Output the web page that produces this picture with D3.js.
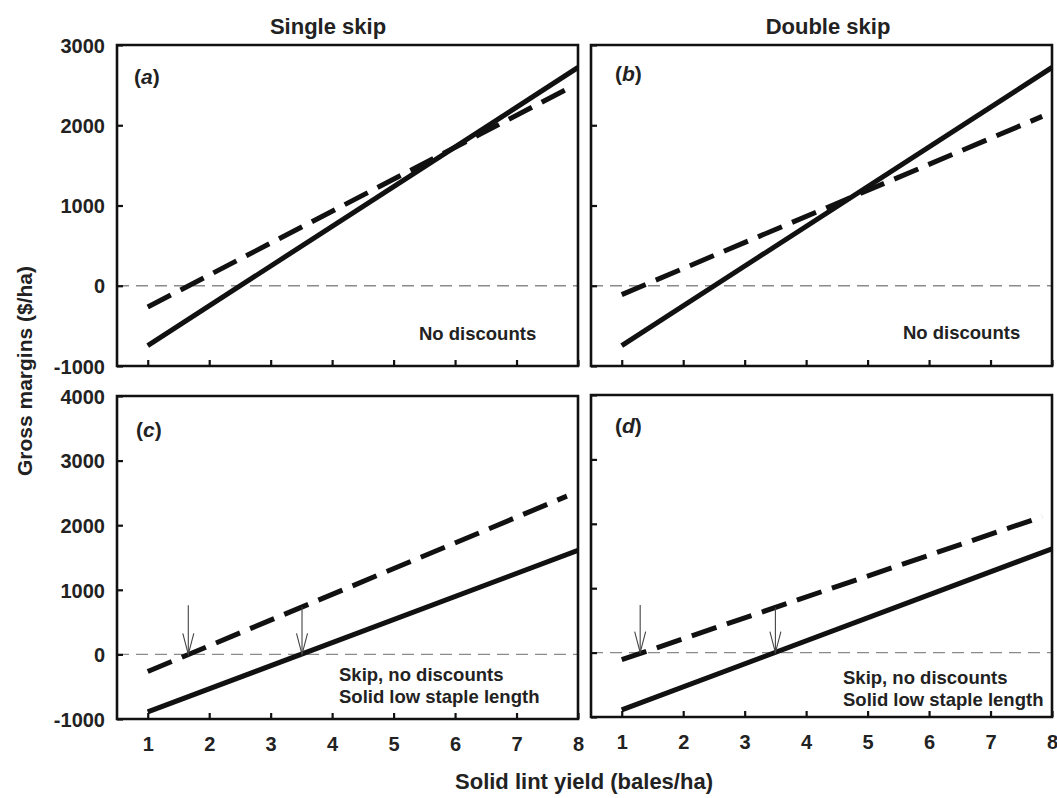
<!DOCTYPE html>
<html>
<head>
<meta charset="utf-8">
<script src="https://cdn.jsdelivr.net/npm/d3@7/dist/d3.min.js"></script>
<style>
  html, body { margin: 0; padding: 0; background: #fff; }
  svg text { font-family: "Liberation Sans", Arial, sans-serif; font-weight: bold; fill: #222; }
</style>
</head>
<body>
<svg id="chart" width="1057" height="798"></svg>
<script>
// ---------- data ----------
const xTicks = [1, 2, 3, 4, 5, 6, 7, 8];
const yTicksTop = [-1000, 0, 1000, 2000, 3000];
const yTicksBottom = [-1000, 0, 1000, 2000, 3000, 4000];
const columnTitles = ["Single skip", "Double skip"];
const panelLetters = ["a", "b", "c", "d"];

// solid planting (solid line), yields in bales/ha
const solidNoDiscountX = [1, 8];
const solidNoDiscountY = [-745, 2720];
const solidLowStapleX = [1, 8];
const solidLowStapleY = [-890, 1612];

// skip planting (dashed line)
const singleSkipX = [1, 7.82];
const singleSkipY = [-265, 2450];
const doubleSkipX = [1, 7.84];
const doubleSkipY = [-110, 2110];

// break-even arrows (yield, top of arrow in $/ha)
const arrowsC_x = [1.66, 3.51];
const arrowsC_top = [760, 735];
const arrowsD_x = [1.3, 3.5];
const arrowsD_top = [740, 700];

const notesTop = ["No discounts"];
const notesBottom = ["Skip, no discounts", "Solid low staple length"];

// ---------- layout ----------
const svg = d3.select("#chart");
const panels = [
  { id: "a", x0: 117, x1: 578, y0: 45, y1: 366, yDom: [-1000, 3000], yTicks: yTicksTop, labels: true, xLabels: false,
    solid: [solidNoDiscountX, solidNoDiscountY], dash: [singleSkipX, singleSkipY], notes: notesTop, arrows: null,
    letterPos: [134, 84], notePos: [419, 340] },
  { id: "b", x0: 591, x1: 1052, y0: 45, y1: 366, yDom: [-1000, 3000], yTicks: yTicksTop, labels: false, xLabels: false,
    solid: [solidNoDiscountX, solidNoDiscountY], dash: [doubleSkipX, doubleSkipY], notes: notesTop, arrows: null,
    letterPos: [615, 81], notePos: [903, 339] },
  { id: "c", x0: 117, x1: 578, y0: 396, y1: 719, yDom: [-1000, 4000], yTicks: yTicksBottom, labels: true, xLabels: true,
    solid: [solidLowStapleX, solidLowStapleY], dash: [singleSkipX, singleSkipY], notes: notesBottom, arrows: [arrowsC_x, arrowsC_top],
    letterPos: [136, 437], notePos: [339, 681] },
  { id: "d", x0: 591, x1: 1052, y0: 395, y1: 717, yDom: [-1000, 4000], yTicks: yTicksBottom, labels: false, xLabels: true,
    solid: [solidLowStapleX, solidLowStapleY], dash: [doubleSkipX, doubleSkipY], notes: notesBottom, arrows: [arrowsD_x, arrowsD_top],
    letterPos: [615, 433], notePos: [843, 684] }
];

const defs = svg.append("defs");
const frames = [];
const plainFmt = d => String(d); // hyphen-minus as in the reference

panels.forEach((p, i) => {
  const x = d3.scaleLinear().domain([0.5, 8]).range([p.x0, p.x1]);
  const y = d3.scaleLinear().domain(p.yDom).range([p.y1, p.y0]);
  const g = svg.append("g").attr("class", "panel-" + p.id);

  defs.append("clipPath").attr("id", "clip-" + p.id)
    .append("rect").attr("x", p.x0).attr("y", p.y0).attr("width", p.x1 - p.x0).attr("height", p.y1 - p.y0);

  // zero reference line
  g.append("line")
    .attr("x1", p.x0).attr("x2", p.x1).attr("y1", y(0)).attr("y2", y(0))
    .attr("stroke", "#8a8a8a").attr("stroke-width", 1.3).attr("stroke-dasharray", "12,7");

  const line = d3.line().x(d => x(d[0])).y(d => y(d[1]));
  const pts = arr => arr[0].map((v, k) => [v, arr[1][k]]);

  const clipped = g.append("g").attr("clip-path", "url(#clip-" + p.id + ")");
  clipped.append("path").datum(pts(p.solid)).attr("d", line)
    .attr("fill", "none").attr("stroke", "#111").attr("stroke-width", 5);
  clipped.append("path").datum(pts(p.dash)).attr("d", line)
    .attr("fill", "none").attr("stroke", "#111").attr("stroke-width", 5)
    .attr("stroke-dasharray", "26,11");

  // arrows
  if (p.arrows) {
    p.arrows[0].forEach((ax, k) => {
      const px = x(ax), top = y(p.arrows[1][k]), tip = y(0);
      g.append("line").attr("x1", px).attr("x2", px).attr("y1", top).attr("y2", tip)
        .attr("stroke", "#444").attr("stroke-width", 1.1);
      g.append("path")
        .attr("d", `M${px - 5.5},${tip - 21} L${px},${tip} L${px + 5.5},${tip - 21}`)
        .attr("fill", "none").attr("stroke", "#444").attr("stroke-width", 1.1);
    });
  }

  // axes (inward ticks)
  const xAxis = d3.axisBottom(x).tickValues(xTicks).tickSize(-6).tickFormat(p.xLabels ? plainFmt : "");
  const xa = g.append("g").attr("transform", `translate(0,${p.y1})`).call(xAxis);
  xa.select(".domain").remove();
  xa.selectAll(".tick line").attr("stroke", "#111").attr("stroke-width", 2.2);
  xa.selectAll(".tick text").attr("font-size", 20).attr("y", 32).attr("dy", 0).attr("fill", "#222")
    .style("font-family", "'Liberation Sans', Arial, sans-serif").style("font-weight", "bold");

  const yAxis = d3.axisLeft(y).tickValues(p.yTicks).tickSize(-6).tickFormat(p.labels ? plainFmt : "");
  const ya = g.append("g").attr("transform", `translate(${p.x0},0)`).call(yAxis);
  ya.select(".domain").remove();
  ya.selectAll(".tick line").attr("stroke", "#111").attr("stroke-width", 2.2);
  ya.selectAll(".tick text").attr("font-size", 20).attr("x", -12).attr("dy", "0.36em").attr("fill", "#222")
    .style("font-family", "'Liberation Sans', Arial, sans-serif").style("font-weight", "bold");

  // panel letter
  const lt = g.append("text").attr("x", p.letterPos[0]).attr("y", p.letterPos[1]).attr("font-size", 21);
  lt.append("tspan").text("(");
  lt.append("tspan").attr("font-style", "italic").text(panelLetters[i]);
  lt.append("tspan").text(")");

  // notes
  p.notes.forEach((t, k) => {
    g.append("text").attr("x", p.notePos[0]).attr("y", p.notePos[1] + k * 22)
      .attr("font-size", 18.5).text(t);
  });

  frames.push(p);
});

// frames drawn last, on top
svg.append("g").selectAll("path.frame").data(frames).join("path")
  .attr("class", "frame")
  .attr("d", p => `M${p.x0},${p.y0}H${p.x1}V${p.y1}H${p.x0}Z`)
  .style("fill", "none").style("stroke", "#111").style("stroke-width", "2.6px");

// column titles
svg.append("text").attr("x", 328).attr("y", 34).attr("text-anchor", "middle").attr("font-size", 22).text(columnTitles[0]);
svg.append("text").attr("x", 828).attr("y", 34).attr("text-anchor", "middle").attr("font-size", 22).text(columnTitles[1]);

// axis titles
svg.append("text").attr("x", 584).attr("y", 789).attr("text-anchor", "middle").attr("font-size", 22)
  .text("Solid lint yield (bales/ha)");
svg.append("text").attr("transform", "translate(32,371) rotate(-90)").attr("text-anchor", "middle")
  .attr("font-size", 21).text("Gross margins ($/ha)");
</script>
</body>
</html>
